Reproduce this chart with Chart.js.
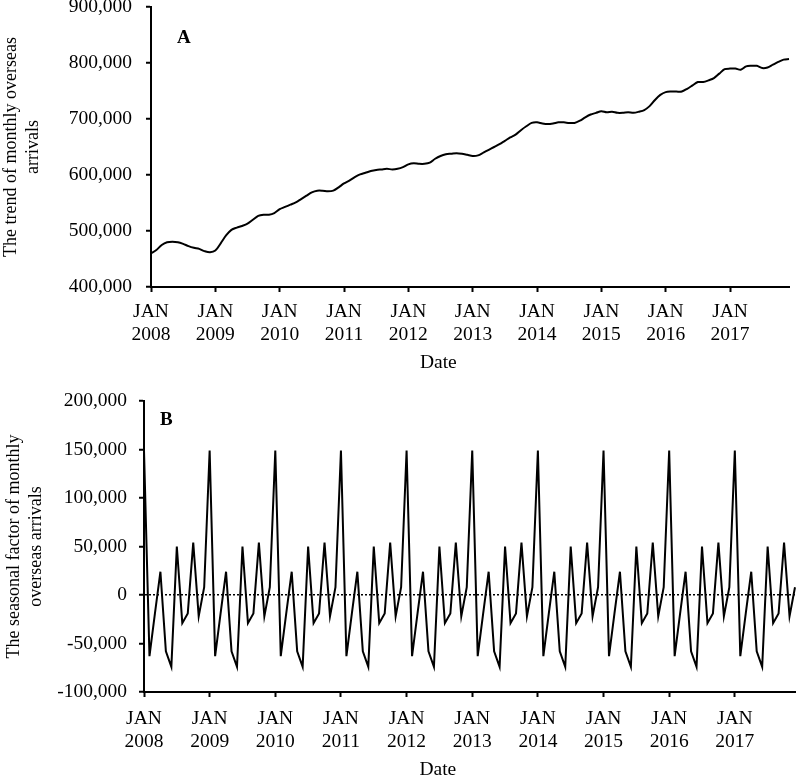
<!DOCTYPE html>
<html>
<head>
<meta charset="utf-8">
<script src="https://cdn.jsdelivr.net/npm/chart.js@4.4.1/dist/chart.umd.min.js"></script>
<style>
  body { margin: 0; background: #fff; }
  canvas { display: block; }
</style>
</head>
<body>
<canvas id="trendChart" width="796" height="380"></canvas>
<canvas id="seasonChart" width="796" height="395"></canvas>
<script>
const years = ['2008', '2009', '2010', '2011', '2012', '2013', '2014', '2015', '2016', '2017'];
const monthNames = ['JAN', 'FEB', 'MAR', 'APR', 'MAY', 'JUN', 'JUL', 'AUG', 'SEP', 'OCT', 'NOV', 'DEC'];

// trend of monthly overseas arrivals, Jan 2008 - Dec 2017
const trendValues = [
  460000, 466000, 475000, 480000, 481000, 480000, 477000, 473000, 470000, 468000, 464000, 462000,
  465000, 478000, 492000, 502000, 506000, 509000, 513000, 520000, 527000, 529000, 529000, 532000,
  539000, 543000, 547000, 551000, 557000, 563000, 569000, 572000, 572000, 571000, 572000, 578000,
  585000, 590000, 596000, 601000, 604000, 607000, 609000, 610000, 611000, 610000, 611000, 614000,
  619000, 621000, 620000, 620000, 622000, 629000, 634000, 637000, 638000, 639000, 638000, 636000,
  634000, 635000, 640000, 645000, 650000, 655000, 661000, 667000, 672000, 680000, 687000, 693000,
  694000, 692000, 691000, 692000, 694000, 694000, 693000, 693000, 697000, 703000, 708000, 711000,
  714000, 712000, 713000, 711000, 711000, 712000, 711000, 713000, 716000, 723000, 734000, 743000,
  748000, 749000, 749000, 749000, 754000, 760000, 766000, 766000, 769000, 773000, 781000, 789000,
  790000, 790000, 788000, 794000, 795000, 795000, 791000, 792000, 797000, 802000, 806000, 807000
];

// seasonal factor, Jan 2008 - Dec 2017
const seasonalValues = [
  149000, -63000, -19000, 24000, -58000, -74000, 50000, -29000, -19000, 54000, -22000, 8000,
  149000, -63000, -19000, 24000, -58000, -74000, 50000, -29000, -19000, 54000, -22000, 8000,
  149000, -63000, -19000, 24000, -58000, -74000, 50000, -29000, -19000, 54000, -22000, 8000,
  149000, -63000, -19000, 24000, -58000, -74000, 50000, -29000, -19000, 54000, -22000, 8000,
  149000, -63000, -19000, 24000, -58000, -74000, 50000, -29000, -19000, 54000, -22000, 8000,
  149000, -63000, -19000, 24000, -58000, -74000, 50000, -29000, -19000, 54000, -22000, 8000,
  149000, -63000, -19000, 24000, -58000, -74000, 50000, -29000, -19000, 54000, -22000, 8000,
  149000, -63000, -19000, 24000, -58000, -74000, 50000, -29000, -19000, 54000, -22000, 8000,
  149000, -63000, -19000, 24000, -58000, -74000, 50000, -29000, -19000, 54000, -22000, 8000,
  149000, -63000, -19000, 24000, -58000, -74000, 50000, -29000, -19000, 54000, -22000, 8000
];

const trendTicks = [400000, 500000, 600000, 700000, 800000, 900000];
const seasonalTicks = [-100000, -50000, 0, 50000, 100000, 150000, 200000];

let monthLabels = [];
years.forEach((y) => {
  monthNames.forEach((m) => monthLabels.push(m + ' ' + y));
});

Chart.defaults.font.family = "'Liberation Serif', 'Times New Roman', serif";
Chart.defaults.color = '#000';

const panelLabel = {
  id: 'panelLabel',
  afterDraw(chart, args, opts) {
    const ctx = chart.ctx;
    const area = chart.chartArea;
    ctx.save();
    ctx.font = "bold 19px 'Liberation Serif'";
    ctx.fillStyle = '#000';
    ctx.textBaseline = 'alphabetic';
    ctx.fillText(opts.text, area.left + opts.dx, area.top + opts.dy);
    ctx.restore();
  }
};

function createConfig(values, yTicks, title, p) {
  return {
    type: 'line',
    data: {
      labels: monthLabels,
      datasets: [{
        data: values,
        borderColor: '#000',
        borderWidth: 2,
        pointRadius: 0,
        tension: p.tension,
        fill: false
      }]
    },
    options: {
      responsive: false,
      animation: false,
      layout: { padding: p.padding },
      scales: {
        x: {
          offset: false,
          afterFit: (scale) => {
            scale.height = p.xHeight;
            scale.paddingLeft = 0;
            scale.paddingRight = 0;
          },
          grid: {
            drawOnChartArea: false,
            tickLength: 5,
            tickWidth: 2,
            tickColor: (c) => (c.index % 12 === 0 ? '#000' : 'rgba(0,0,0,0)')
          },
          border: { color: '#000', width: 2 },
          ticks: {
            autoSkip: false,
            maxRotation: 0,
            minRotation: 0,
            padding: p.xTickPad,
            font: { size: 19.5, lineHeight: 1.2 },
            callback: (value, index) => (index % 12 === 0 ? ['JAN', years[index / 12]] : '')
          },
          title: {
            display: true,
            text: 'Date             ',
            font: { size: 19.5, lineHeight: 1.2 },
            padding: { top: 0, bottom: p.dateBottom }
          }
        },
        y: {
          min: yTicks[0],
          max: yTicks[yTicks.length - 1],
          afterFit: (scale) => {
            scale.width = p.yWidth;
            scale.paddingTop = 0;
            scale.paddingBottom = 0;
          },
          afterBuildTicks: (scale) => { scale.ticks = yTicks.map((v) => ({ value: v })); },
          grid: {
            drawOnChartArea: p.zeroLine,
            lineWidth: 1.5,
            color: (c) => (c.tick && c.tick.value === 0 ? '#000' : 'rgba(0,0,0,0)'),
            tickLength: 5,
            tickWidth: 2,
            tickColor: '#000'
          },
          border: { color: '#000', width: 2, dash: p.zeroLine ? [2, 2] : [] },
          ticks: {
            padding: p.yTickPad,
            font: { size: 19.5 },
            callback: (value) => Number(value).toLocaleString('en-US')
          },
          title: {
            display: true,
            text: title,
            font: { size: 18, lineHeight: 1.25 },
            padding: { top: p.yTitlePad, bottom: 0 }
          }
        }
      },
      plugins: {
        legend: { display: false },
        tooltip: { enabled: false },
        panelLabel: { text: p.label, dx: p.labelDx, dy: p.labelDy }
      }
    },
    plugins: [panelLabel]
  };
}

new Chart(document.getElementById('trendChart').getContext('2d'),
  createConfig(trendValues, trendTicks, ['The trend of monthly overseas', 'arrivals'], {
    tension: 0.3, padding: { left: 0, right: 7, top: 7, bottom: 0 },
    xHeight: 93, yWidth: 151, xTickPad: 8, yTickPad: 14, dateBottom: 5,
    yTitlePad: 0, zeroLine: false, label: 'A', labelDx: 26, labelDy: 36
  }));

new Chart(document.getElementById('seasonChart').getContext('2d'),
  createConfig(seasonalValues, seasonalTicks, ['The seasonal factor of monthly', 'overseas arrivals'], {
    tension: 0, padding: { left: 0, right: 1, top: 21, bottom: 0 },
    xHeight: 83, yWidth: 144, xTickPad: 10, yTickPad: 12, dateBottom: -7,
    yTitlePad: 3, zeroLine: true, label: 'B', labelDx: 16, labelDy: 24
  }));
</script>
</body>
</html>
